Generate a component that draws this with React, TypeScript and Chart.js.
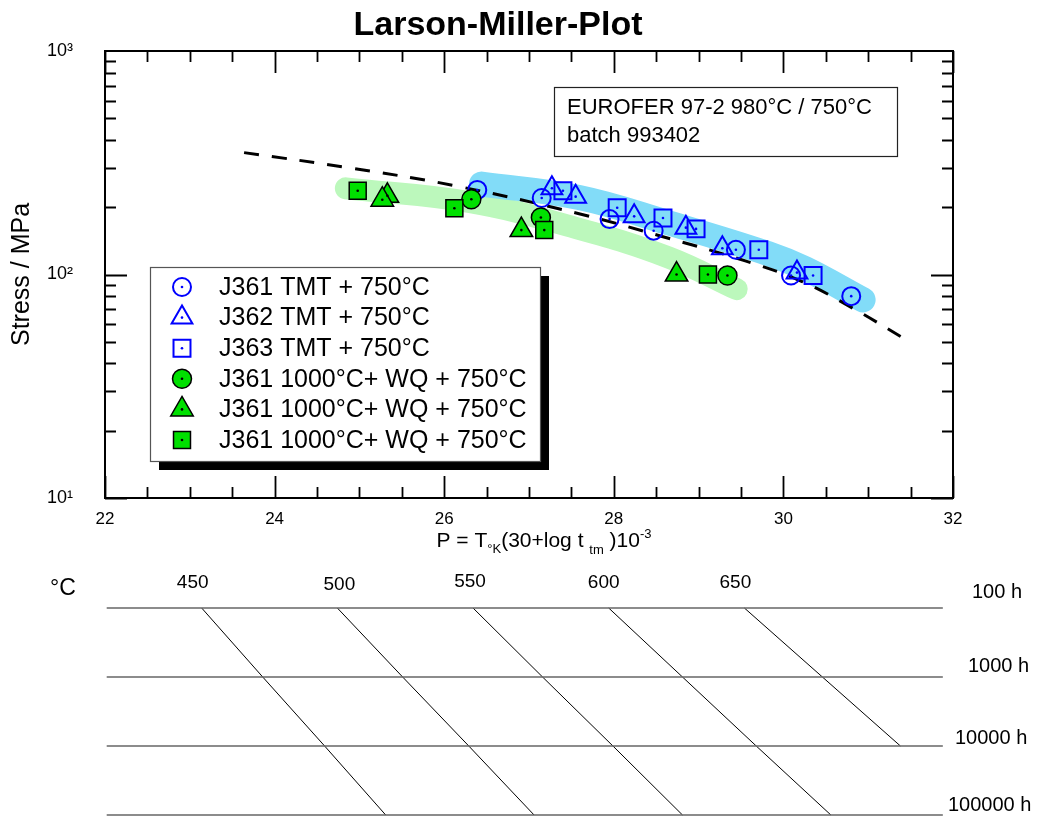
import React, { useEffect, useRef } from 'react';
import { Chart, registerables } from 'chart.js';

Chart.register(...registerables);

const FONT = "'Liberation Sans', Arial, Helvetica, sans-serif";

// ---------- texts ----------
const chartTitle = 'Larson-Miller-Plot';
const yAxisTitle = 'Stress / MPa';
const xTickValues = [22, 24, 26, 28, 30, 32];
const xTickLabels = ['22', '24', '26', '28', '30', '32'];
const yTickValues = [10, 100, 1000];
const yTickLabels = ['10\u00B9', '10\u00B2', '10\u00B3'];
const annotationLines = ['EUROFER 97-2 980°C / 750°C', 'batch 993402'];
const seriesLabels = [
  'J361 TMT + 750°C',
  'J362 TMT + 750°C',
  'J363 TMT + 750°C',
  'J361 1000°C+ WQ + 750°C',
  'J361 1000°C+ WQ + 750°C',
  'J361 1000°C+ WQ + 750°C',
];

// ---------- data (P = Larson-Miller parameter, S = stress MPa) ----------
const j361TmtP = [26.39, 27.15, 27.95, 28.47, 29.44, 30.09, 30.8];
const j361TmtS = [239, 220, 177, 157, 129, 99, 80];
const j362TmtP = [27.27, 27.55, 28.24, 28.85, 29.28, 30.16];
const j362TmtS = [243, 223, 182, 162, 131, 102];
const j363TmtP = [27.4, 28.04, 28.58, 28.97, 29.71, 30.35];
const j363TmtS = [237, 199, 179, 160, 129, 99];
const wqCircleP = [26.32, 27.14, 29.34];
const wqCircleS = [217, 180, 99];
const wqTriangleP = [25.33, 25.27, 26.91, 28.74];
const wqTriangleS = [225, 216, 158, 100];
const wqSquareP = [24.98, 26.12, 27.18, 29.11];
const wqSquareS = [237, 198, 158, 100];

const fitP = [23.64, 24.86, 26.14, 27.59, 28.57, 29.55, 30.22, 30.8, 31.42];
const fitS = [351, 301, 249, 187, 148, 115, 93, 71.3, 51.8];
const tmtBandP = [26.44, 27.59, 28.65, 29.82, 30.26, 30.94];
const tmtBandS = [254, 221, 170, 124, 106, 77];
const wqBandP = [24.84, 26.29, 27.59, 28.65, 29.45];
const wqBandS = [243, 211, 160, 119, 86];

// ---------- nomogram ----------
const unitLabel = '°C';
const hourLevels = [100, 1000, 10000, 100000];
const hourLabels = ['100 h', '1000 h', '10000 h', '100000 h'];
const hourLineP = [22.02, 31.88];
const tempLabels = ['450', '500', '550', '600', '650'];
const iso450P = [23.14, 23.86, 24.59, 25.31];
const iso500P = [24.74, 25.51, 26.29, 27.06];
const iso550P = [26.34, 27.16, 27.99, 28.81];
const iso600P = [27.94, 28.81, 29.68, 30.56];
const iso650P = [29.54, 30.46, 31.38];
const isoLinesP = [iso450P, iso500P, iso550P, iso600P, iso650P];

const pts = (xs: number[], ys: number[]) => xs.map((x, i) => ({ x, y: ys[i] }));

const BLUE = '#0000ff';
const GREEN = '#00e000';

function markerSet(label: string, xs: number[], ys: number[], style: string, r: number, fill: string, stroke: string, bw: number, dot: string, order: number) {
  return {
    label,
    data: pts(xs, ys),
    showLine: false,
    pointStyle: style,
    pointRadius: r,
    pointHoverRadius: r,
    pointBackgroundColor: fill,
    pointBorderColor: stroke,
    pointBorderWidth: bw,
    backgroundColor: fill,
    borderColor: stroke,
    order,
    dotColor: dot,
    isMarker: true,
  };
}

const markerSets = [
  markerSet(seriesLabels[0], j361TmtP, j361TmtS, 'circle', 9, 'rgba(0,0,0,0)', BLUE, 2, BLUE, 6),
  markerSet(seriesLabels[1], j362TmtP, j362TmtS, 'triangle', 12, 'rgba(0,0,0,0)', BLUE, 2, BLUE, 5),
  markerSet(seriesLabels[2], j363TmtP, j363TmtS, 'rect', 12, 'rgba(0,0,0,0)', BLUE, 2, BLUE, 4),
  markerSet(seriesLabels[3], wqCircleP, wqCircleS, 'circle', 9.5, GREEN, '#000', 1.5, '#000', 3),
  markerSet(seriesLabels[4], wqTriangleP, wqTriangleS, 'triangle', 13, GREEN, '#000', 1.5, '#000', 2),
  markerSet(seriesLabels[5], wqSquareP, wqSquareS, 'rect', 12, GREEN, '#000', 1.5, '#000', 1),
];

function drawMarker(ctx: CanvasRenderingContext2D, ds: any, x: number, y: number) {
  const r = ds.pointRadius;
  ctx.save();
  ctx.beginPath();
  if (ds.pointStyle === 'circle') {
    ctx.arc(x, y, r, 0, Math.PI * 2);
  } else if (ds.pointStyle === 'triangle') {
    let a = 0;
    ctx.moveTo(x + Math.sin(a) * r, y - Math.cos(a) * r);
    a += (Math.PI * 2) / 3;
    ctx.lineTo(x + Math.sin(a) * r, y - Math.cos(a) * r);
    a += (Math.PI * 2) / 3;
    ctx.lineTo(x + Math.sin(a) * r, y - Math.cos(a) * r);
  } else {
    const s = r * Math.SQRT1_2;
    ctx.rect(x - s, y - s, 2 * s, 2 * s);
  }
  ctx.closePath();
  ctx.fillStyle = ds.pointBackgroundColor;
  ctx.fill();
  ctx.lineWidth = ds.pointBorderWidth;
  ctx.strokeStyle = ds.pointBorderColor;
  ctx.stroke();
  ctx.beginPath();
  ctx.fillStyle = ds.dotColor;
  ctx.arc(x, y, 1.3, 0, Math.PI * 2);
  ctx.fill();
  ctx.restore();
}

const topDecor = {
  id: 'topDecor',
  afterDatasetDraw(chart: any, args: any) {
    const ds = chart.data.datasets[args.index];
    if (!ds.dotColor) return;
    const ctx = chart.ctx;
    ctx.save();
    ctx.fillStyle = ds.dotColor;
    args.meta.data.forEach((el: any) => {
      ctx.beginPath();
      ctx.arc(el.x, el.y, 1.3, 0, Math.PI * 2);
      ctx.fill();
    });
    ctx.restore();
  },
  afterDraw(chart: any) {
    const ctx: CanvasRenderingContext2D = chart.ctx;
    const { left, right, top, bottom } = chart.chartArea;
    const xs = chart.scales.x;
    const ys = chart.scales.y;
    ctx.save();
    // frame
    ctx.strokeStyle = '#000';
    ctx.lineWidth = 2;
    ctx.strokeRect(left, top, right - left, bottom - top);
    // ticks
    const MAJ = 22;
    const MIN = 11;
    ctx.lineWidth = 1.8;
    ctx.beginPath();
    for (let v = xs.min; v <= xs.max + 1e-9; v += 0.5) {
      const px = Math.round(xs.getPixelForValue(v)) + 0.5;
      const len = Math.abs(v % 2) < 1e-9 ? MAJ : MIN;
      ctx.moveTo(px, bottom);
      ctx.lineTo(px, bottom - len);
      ctx.moveTo(px, top);
      ctx.lineTo(px, top + len);
    }
    for (let d = ys.min; d < ys.max - 1e-9; d *= 10) {
      for (let k = 1; k <= 9; k++) {
        const py = Math.round(ys.getPixelForValue(k * d)) + 0.5;
        const len = k === 1 ? MAJ : MIN;
        ctx.moveTo(left, py);
        ctx.lineTo(left + len, py);
        ctx.moveTo(right, py);
        ctx.lineTo(right - len, py);
      }
    }
    ctx.stroke();

    // title
    ctx.fillStyle = '#000';
    ctx.font = `bold 34px ${FONT}`;
    ctx.textAlign = 'center';
    ctx.textBaseline = 'middle';
    ctx.fillText(chartTitle, 498, 26);

    // x axis title with sub/superscripts
    const parts = [
      { t: 'P = T', s: 21, dy: 0 },
      { t: '°K', s: 13, dy: 6 },
      { t: '(30+log t ', s: 21, dy: 0 },
      { t: 'tm', s: 13, dy: 7 },
      { t: ' )10', s: 21, dy: 0 },
      { t: '-3', s: 13, dy: -9 },
    ];
    let total = 0;
    parts.forEach((p) => {
      ctx.font = `${p.s}px ${FONT}`;
      total += ctx.measureText(p.t).width;
    });
    let cx = 544 - total / 2;
    ctx.textAlign = 'left';
    ctx.textBaseline = 'alphabetic';
    parts.forEach((p) => {
      ctx.font = `${p.s}px ${FONT}`;
      ctx.fillText(p.t, cx, 547 + p.dy);
      cx += ctx.measureText(p.t).width;
    });

    // annotation box
    ctx.fillStyle = '#fff';
    ctx.fillRect(554.5, 87.5, 343, 69);
    ctx.strokeStyle = '#222';
    ctx.lineWidth = 1.2;
    ctx.strokeRect(554.5, 87.5, 343, 69);
    ctx.fillStyle = '#000';
    ctx.font = `22px ${FONT}`;
    ctx.textBaseline = 'middle';
    ctx.fillText(annotationLines[0], 567, 108);
    ctx.fillText(annotationLines[1], 567, 136);

    // legend with shadow
    ctx.fillStyle = '#000';
    ctx.fillRect(159, 276, 390, 194);
    ctx.fillStyle = '#fff';
    ctx.fillRect(150, 267, 390, 194);
    ctx.strokeStyle = '#555';
    ctx.lineWidth = 1.2;
    ctx.strokeRect(150.5, 267.5, 390, 194);
    ctx.font = `25px ${FONT}`;
    ctx.textBaseline = 'middle';
    markerSets.forEach((ds, i) => {
      const y = 287 + i * 30.6;
      drawMarker(ctx, ds, 182, y);
      ctx.fillStyle = '#000';
      ctx.fillText(ds.label, 219, y + 1);
    });
    ctx.restore();
  },
};

const bottomDecor = {
  id: 'bottomDecor',
  afterDraw(chart: any) {
    const ctx: CanvasRenderingContext2D = chart.ctx;
    const xs = chart.scales.x;
    const ys = chart.scales.y;
    ctx.save();
    ctx.fillStyle = '#000';
    ctx.textBaseline = 'middle';
    ctx.font = `23px ${FONT}`;
    ctx.textAlign = 'left';
    ctx.fillText(unitLabel, 50, 29);
    ctx.font = `19px ${FONT}`;
    ctx.textAlign = 'center';
    const tOff = [-9, 2, -3, -5, -9];
    const tY = [23, 25, 22, 23, 23];
    tempLabels.forEach((t, i) => {
      ctx.fillText(t, xs.getPixelForValue(isoLinesP[i][0]) + tOff[i], tY[i]);
    });
    ctx.font = `20px ${FONT}`;
    ctx.textAlign = 'left';
    const hx = [972, 968, 955, 948];
    const hOff = [16, 11, 8, 10];
    hourLabels.forEach((h, i) => {
      ctx.fillText(h, hx[i], ys.getPixelForValue(hourLevels[i]) - hOff[i]);
    });
    ctx.restore();
  },
};

export default function App() {
  const topRef = useRef<HTMLCanvasElement>(null);
  const botRef = useRef<HTMLCanvasElement>(null);

  useEffect(() => {
    const datasets: any[] = [
      ...markerSets,
      {
        label: 'fit',
        data: pts(fitP, fitS),
        showLine: true,
        borderColor: '#000',
        borderWidth: 3,
        borderDash: [15, 13],
        pointRadius: 0,
        tension: 0.4,
        order: 8,
      },
      {
        label: 'TMT band',
        data: pts(tmtBandP, tmtBandS),
        showLine: true,
        borderColor: '#82dcf8',
        borderWidth: 25,
        borderCapStyle: 'round',
        borderJoinStyle: 'round',
        pointRadius: 0,
        tension: 0.4,
        order: 10,
      },
      {
        label: 'WQ band',
        data: pts(wqBandP, wqBandS),
        showLine: true,
        borderColor: '#bcf8bc',
        borderWidth: 22,
        borderCapStyle: 'round',
        borderJoinStyle: 'round',
        pointRadius: 0,
        tension: 0.4,
        order: 11,
      },
    ];

    const top = new Chart(topRef.current!, {
      type: 'scatter',
      data: { datasets },
      options: {
        responsive: false,
        animation: false,
        events: [],
        layout: { padding: { top: 51, right: 84, left: 0, bottom: 0 } },
        plugins: { legend: { display: false }, tooltip: { enabled: false }, title: { display: false } },
        scales: {
          x: {
            type: 'linear',
            min: 22,
            max: 32,
            grid: { display: false, drawTicks: false },
            border: { display: false },
            afterBuildTicks: (s: any) => {
              s.ticks = xTickValues.map((v) => ({ value: v }));
            },
            afterFit: (s: any) => {
              s.height = 62;
            },
            ticks: {
              autoSkip: false,
              maxRotation: 0,
              padding: 11,
              color: '#000',
              font: { family: FONT, size: 17 },
              callback: (_v: any, i: number) => xTickLabels[i],
            },
          },
          y: {
            type: 'logarithmic',
            min: 10,
            max: 1000,
            grid: { display: false, drawTicks: false },
            border: { display: false },
            afterBuildTicks: (s: any) => {
              s.ticks = yTickValues.map((v) => ({ value: v }));
            },
            afterFit: (s: any) => {
              s.width = 105;
            },
            title: {
              display: true,
              text: yAxisTitle,
              color: '#000',
              font: { family: FONT, size: 25 },
              padding: { top: 7, bottom: 0 },
            },
            ticks: {
              autoSkip: false,
              padding: 32,
              color: '#000',
              font: { family: FONT, size: 18 },
              callback: (_v: any, i: number) => yTickLabels[i],
            },
          },
        },
      },
      plugins: [topDecor],
    } as any);

    const nomoSets: any[] = [
      ...hourLevels.map((h) => ({
        label: `${h} h`,
        data: hourLineP.map((p) => ({ x: p, y: h })),
        showLine: true,
        borderColor: '#666',
        borderWidth: 1.6,
        pointRadius: 0,
        clip: false,
      })),
      ...isoLinesP.map((ps, i) => ({
        label: tempLabels[i],
        data: ps.map((p, j) => ({ x: p, y: hourLevels[j] })),
        showLine: true,
        borderColor: '#000',
        borderWidth: 1,
        pointRadius: 0,
        clip: false,
      })),
    ];

    const bot = new Chart(botRef.current!, {
      type: 'scatter',
      data: { datasets: nomoSets },
      options: {
        responsive: false,
        animation: false,
        events: [],
        layout: { padding: { top: 48, right: 84, left: 105, bottom: 1 } },
        plugins: { legend: { display: false }, tooltip: { enabled: false } },
        scales: {
          x: { type: 'linear', min: 22, max: 32, display: false },
          y: { type: 'logarithmic', min: 100, max: 100000, reverse: true, display: false },
        },
      },
      plugins: [bottomDecor],
    } as any);

    return () => {
      top.destroy();
      bot.destroy();
    };
  }, []);

  return (
    <div style={{ position: 'absolute', left: 0, top: 0, width: 1037, height: 816, background: '#fff' }}>
      <canvas
        ref={topRef}
        width={1037}
        height={560}
        style={{ position: 'absolute', left: 0, top: 0, width: 1037, height: 560 }}
      />
      <canvas
        ref={botRef}
        width={1037}
        height={256}
        style={{ position: 'absolute', left: 0, top: 560, width: 1037, height: 256 }}
      />
    </div>
  );
}
